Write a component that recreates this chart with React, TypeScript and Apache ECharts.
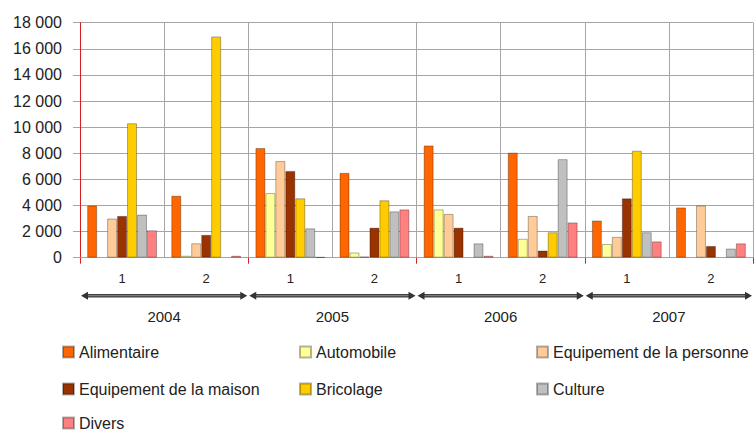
import React, { useEffect, useRef } from "react";
import * as echarts from "echarts";

const years = ["2004", "2005", "2006", "2007"];
const semesters = ["1", "2"];
const categories = years.flatMap((y) => semesters.map((s) => `${y}-${s}`));

const seriesNames = [
  "Alimentaire",
  "Automobile",
  "Equipement de la personne",
  "Equipement de la maison",
  "Bricolage",
  "Culture",
  "Divers",
];
const alimentaire = [4000, 4750, 8400, 6500, 8600, 8050, 2850, 3850];
const automobile = [null, 150, 4950, 400, 3700, 1450, 1050, null];
const equipPersonne = [3000, 1100, 7400, 90, 3350, 3200, 1600, 4000];
const equipMaison = [3200, 1750, 6650, 2300, 2300, 550, 4550, 900];
const bricolage = [10300, 16950, 4550, 4400, null, 1950, 8200, null];
const culture = [3300, null, 2250, 3550, 1100, 7550, 1950, 700];
const divers = [2100, 150, 50, 3700, 150, 2700, 1250, 1100];
const seriesValues = [alimentaire, automobile, equipPersonne, equipMaison, bricolage, culture, divers];
const colors = ["#FF6600", "#FFFF99", "#FFCC99", "#993300", "#FFCC00", "#C0C0C0", "#FF8080"];

const yTicks = { min: 0, max: 18000, interval: 2000 };

const FONT = "'Liberation Sans', Arial, sans-serif";

export default function App() {
  const ref = useRef<HTMLDivElement>(null);
  useEffect(() => {
    if (!ref.current) return;
    const chart = echarts.init(ref.current, undefined, { renderer: "svg" });
    const fmt = (v: number) => String(v).replace(/\B(?=(\d{3})+(?!\d))/g, " ");
    const rowTops = [343, 380, 414];
    const legendRows = [seriesNames.slice(0, 3), seriesNames.slice(3, 6), seriesNames.slice(6)];
    const option: any = {
      animation: false,
      backgroundColor: "#ffffff",
      grid: { left: 80, right: 3, top: 22.7, bottom: 174.3, containLabel: false },
      legend: legendRows.map((row, k) => ({
        left: 62,
        top: rowTops[k],
        width: 720,
        orient: "horizontal",
        padding: 0,
        itemWidth: 11,
        itemHeight: 11,
        itemGap: 10,
        icon: "rect",
        data: row,
        selectedMode: false,
        textStyle: {
          fontFamily: FONT,
          fontSize: 16,
          color: "#222",
          width: 210,
          lineHeight: 18,
          overflow: "none",
        },
      })),
      xAxis: [
        {
          type: "category",
          data: categories,
          position: "bottom",
          axisLine: { show: true, lineStyle: { color: "#a6a6a6", width: 1 } },
          axisTick: { show: false },
          axisLabel: {
            formatter: (v: string) => v.split("-")[1],
            margin: 14,
            fontSize: 13,
            fontFamily: FONT,
            color: "#222",
          },
          splitLine: { show: true, interval: 0, lineStyle: { color: "#a6a6a6", width: 1 } },
        },
        {
          type: "category",
          data: years,
          position: "bottom",
          offset: 0,
          axisLine: { show: false },
          axisTick: { show: true, length: 6, interval: 0, lineStyle: { color: "#d02020", width: 1 } },
          axisLabel: { margin: 51, fontSize: 15, fontFamily: FONT, color: "#222" },
          splitLine: { show: false },
        },
      ],
      yAxis: {
        type: "value",
        min: yTicks.min,
        max: yTicks.max,
        interval: yTicks.interval,
        axisLine: { show: true, lineStyle: { color: "#d02020", width: 1 } },
        axisTick: { show: true, length: 7, lineStyle: { color: "#a6a6a6" } },
        axisLabel: { formatter: fmt, margin: 18, fontSize: 16, fontFamily: FONT, color: "#222" },
        splitLine: { show: true, lineStyle: { color: "#a6a6a6", width: 1 } },
      },
      series: [
        ...seriesNames.map((name, i) => ({
          name,
          type: "bar",
          xAxisIndex: 0,
          yAxisIndex: 0,
          barGap: "0%",
          barCategoryGap: "17%",
          data: seriesValues[i],
          itemStyle: { color: colors[i], borderColor: "rgba(0,0,0,0.3)", borderWidth: 1 },
        })),
        {
          type: "custom",
          name: "years",
          xAxisIndex: 1,
          yAxisIndex: 0,
          clip: false,
          silent: true,
          data: years.map((_, i) => [i]),
          encode: { x: 0 },
          renderItem: (params: any, api: any) => {
            const c = api.coord([api.value(0), 0]);
            const w = api.size([1, 0])[0];
            const y = c[1] + 38;
            const x0 = c[0] - w / 2 + 1;
            const x1 = c[0] + w / 2 - 1;
            const ah = 7;
            const hw = 4;
            return {
              type: "group",
              children: [
                {
                  type: "line",
                  shape: { x1: x0 + 4, y1: y, x2: x1 - 4, y2: y },
                  style: { stroke: "#404040", lineWidth: 3.5 },
                },
                {
                  type: "line",
                  shape: { x1: x0 + 6, y1: y, x2: x1 - 6, y2: y },
                  style: { stroke: "#8a8a8a", lineWidth: 1 },
                },
                {
                  type: "polygon",
                  shape: { points: [[x0, y], [x0 + ah, y - hw], [x0 + ah, y + hw]] },
                  style: { fill: "#333" },
                },
                {
                  type: "polygon",
                  shape: { points: [[x1, y], [x1 - ah, y - hw], [x1 - ah, y + hw]] },
                  style: { fill: "#333" },
                },
              ],
            };
          },
        },
      ],
    };
    chart.setOption(option);
    return () => chart.dispose();
  }, []);
  return (
    <div
      ref={ref}
      style={{ position: "fixed", left: 0, top: 0, width: 756, height: 432, background: "#fff" }}
    />
  );
}
